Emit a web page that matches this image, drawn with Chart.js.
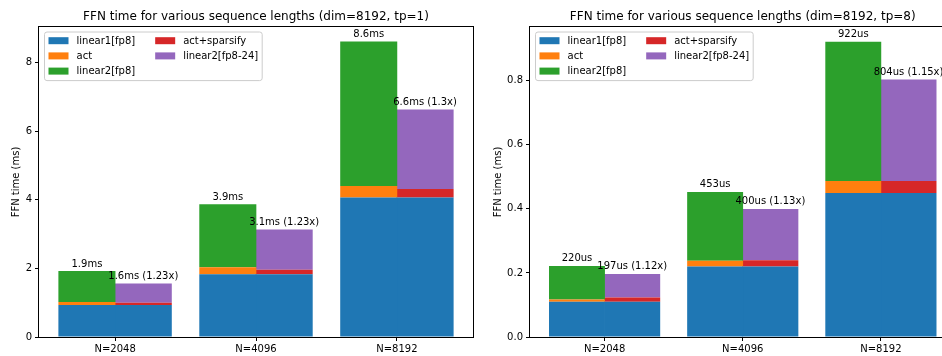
<!DOCTYPE html>
<html><head><meta charset="utf-8">
<script src="https://cdn.jsdelivr.net/npm/chart.js@4/dist/chart.umd.min.js"></script>
<style>
html,body{margin:0;padding:0;background:#fff;overflow:hidden;width:942px;height:356px;position:relative;}
canvas{position:absolute;top:0;}
</style></head><body>
<canvas id="c1" width="480" height="356" style="left:0px"></canvas>
<canvas id="c2" width="480" height="356" style="left:480px"></canvas>
<script>
// ---- data ----
const categories = ['N=2048', 'N=4096', 'N=8192'];
const seriesNames = ['linear1[fp8]', 'act', 'linear2[fp8]', 'act+sparsify', 'linear2[fp8-24]'];

// tp=1 (ms)
const tp1Linear1 = [0.93, 1.83, 4.06];
const tp1Act = [0.09, 0.20, 0.34];
const tp1Linear2 = [0.90, 1.84, 4.21];
const tp1ActSparsify = [0.07, 0.13, 0.25];
const tp1Linear2Sparse = [0.56, 1.17, 2.32];
const tp1DenseLabels = ['1.9ms', '3.9ms', '8.6ms'];
const tp1SparseLabels = ['1.6ms (1.23x)', '3.1ms (1.23x)', '6.6ms (1.3x)'];
const tp1YTicks = [0, 2, 4, 6, 8];
const tp1YMax = 9.03;

// tp=8 (ms)
const tp8Linear1 = [0.110, 0.220, 0.450];
const tp8Act = [0.007, 0.018, 0.037];
const tp8Linear2 = [0.105, 0.215, 0.435];
const tp8ActSparsify = [0.013, 0.020, 0.037];
const tp8Linear2Sparse = [0.074, 0.160, 0.317];
const tp8DenseLabels = ['220us', '453us', '922us'];
const tp8SparseLabels = ['197us (1.12x)', '400us (1.13x)', '804us (1.15x)'];
const tp8YTicks = [0, 0.2, 0.4, 0.6, 0.8];
const tp8YMax = 0.968;

// ---- styling ----
const COLORS = ['#1f77b4', '#ff7f0e', '#2ca02c', '#d62728', '#9467bd'];
const FONT = 'DejaVu Sans';

const toXY = arr => arr.map((v, i) => ({ x: i, y: v }));

function buildDatasets(l1, act, l2, actS, l2S) {
  return [
    { label: seriesNames[0], data: toXY(l1), backgroundColor: COLORS[0], stack: 'dense', legend: true },
    { label: seriesNames[1], data: toXY(act), backgroundColor: COLORS[1], stack: 'dense', legend: true },
    { label: seriesNames[2], data: toXY(l2), backgroundColor: COLORS[2], stack: 'dense', legend: true },
    { label: seriesNames[0], data: toXY(l1), backgroundColor: COLORS[0], stack: 'sparse', legend: false },
    { label: seriesNames[3], data: toXY(actS), backgroundColor: COLORS[3], stack: 'sparse', legend: true },
    { label: seriesNames[4], data: toXY(l2S), backgroundColor: COLORS[4], stack: 'sparse', legend: true }
  ].map(d => Object.assign(d, { borderWidth: 0, categoryPercentage: 0.8, barPercentage: 1.012 }));
}

const framePlugin = {
  id: 'frameAndLabels',
  afterDatasetsDraw(chart, args, opts) {
    const ctx = chart.ctx;
    const a = chart.chartArea;
    ctx.save();
    // value labels
    ctx.fillStyle = '#000';
    ctx.font = '10px "' + FONT + '"';
    ctx.textAlign = 'center';
    ctx.textBaseline = 'alphabetic';
    const denseMeta = chart.getDatasetMeta(2);
    const sparseMeta = chart.getDatasetMeta(5);
    denseMeta.data.forEach((el, i) => ctx.fillText(opts.dense[i], el.x, el.y - 4.5));
    sparseMeta.data.forEach((el, i) => ctx.fillText(opts.sparse[i], el.x, el.y - 4.5));
    // axes frame
    ctx.strokeStyle = '#000';
    ctx.lineWidth = 1;
    ctx.strokeRect(Math.round(a.left) - 0.5, Math.round(a.top) - 0.5,
                   Math.round(a.right) - Math.round(a.left) + 1, Math.round(a.bottom) - Math.round(a.top) + 1);
    // legend
    const items = chart.data.datasets.filter(d => d.legend);
    const fx = a.left + 5.5, fy = a.top + 5;
    const col1 = items.slice(0, 3), col2 = items.slice(3);
    const w1 = Math.max(...col1.map(d => ctx.measureText(d.label).width));
    const w2 = Math.max(...col2.map(d => ctx.measureText(d.label).width));
    const colX = [fx + 4, fx + 4 + 20 + 8 + w1 + 20];
    const fw = (colX[1] - fx) + 20 + 8 + w2 + 4;
    const fh = 48.6;
    ctx.beginPath();
    if (ctx.roundRect) ctx.roundRect(fx, fy, fw, fh, 2.5); else ctx.rect(fx, fy, fw, fh);
    ctx.fillStyle = 'rgba(255,255,255,0.8)';
    ctx.fill();
    ctx.strokeStyle = '#cccccc';
    ctx.stroke();
    ctx.textAlign = 'left';
    ctx.textBaseline = 'middle';
    [col1, col2].forEach((col, c) => {
      col.forEach((d, r) => {
        const cy = fy + 8.7 + r * 15.2;
        ctx.fillStyle = d.backgroundColor;
        ctx.fillRect(colX[c], cy - 3.5, 20, 7);
        ctx.fillStyle = '#000';
        ctx.fillText(d.label, colX[c] + 28, cy + 0.5);
      });
    });
    ctx.restore();
  }
};

function makeChart(id, cfg) {
  return new Chart(document.getElementById(id), {
    type: 'bar',
    data: { datasets: buildDatasets(...cfg.series) },
    plugins: [framePlugin],
    options: {
      responsive: false,
      animation: false,
      devicePixelRatio: 1,
      layout: { padding: { left: 0, right: cfg.padRight, top: 0, bottom: 0 } },
      plugins: {
        legend: { display: false },
        tooltip: { enabled: false },
        title: {
          display: true, text: cfg.title, fullSize: false, color: '#000',
          font: { family: FONT, size: 12, weight: 'normal' },
          padding: { top: 9.5, bottom: 3.1 }
        },
        frameAndLabels: { dense: cfg.dense, sparse: cfg.sparse }
      },
      scales: {
        x: {
          type: 'linear', min: -0.54, max: 2.54, offset: false,
          afterBuildTicks: s => { s.ticks = categories.map((_, i) => ({ value: i })); },
          afterFit: s => { s.height = 19; },
          ticks: { callback: v => categories[v] ?? '', color: '#000', padding: 2,
                   font: { family: FONT, size: 10 }, maxRotation: 0, autoSkip: false },
          grid: { display: true, drawOnChartArea: false, drawTicks: true, tickLength: 4, color: '#000', offset: false },
          border: { display: false }
        },
        y: {
          type: 'linear', min: 0, max: cfg.yMax, stacked: true,
          afterBuildTicks: s => { s.ticks = cfg.yTicks.map(v => ({ value: v })); },
          afterFit: s => { s.width = cfg.yWidth; },
          ticks: { callback: cfg.fmt, color: '#000', padding: 3, font: { family: FONT, size: 10 } },
          grid: { display: true, drawOnChartArea: false, drawTicks: true, tickLength: 4, color: '#000' },
          border: { display: false },
          title: { display: true, text: 'FFN time (ms)', color: '#000',
                   font: { family: FONT, size: 10 }, padding: { top: cfg.yTitlePad, bottom: 0 } }
        }
      }
    }
  });
}

makeChart('c1', {
  title: 'FFN time for various sequence lengths (dim=8192, tp=1)',
  series: [tp1Linear1, tp1Act, tp1Linear2, tp1ActSparsify, tp1Linear2Sparse],
  dense: tp1DenseLabels, sparse: tp1SparseLabels,
  yTicks: tp1YTicks, yMax: tp1YMax, fmt: v => String(v),
  yWidth: 39, padRight: 7, yTitlePad: 10
});
makeChart('c2', {
  title: 'FFN time for various sequence lengths (dim=8192, tp=8)',
  series: [tp8Linear1, tp8Act, tp8Linear2, tp8ActSparsify, tp8Linear2Sparse],
  dense: tp8DenseLabels, sparse: tp8SparseLabels,
  yTicks: tp8YTicks, yMax: tp8YMax, fmt: v => Number(v).toFixed(1),
  yWidth: 50, padRight: 4.5, yTitlePad: 12
});
</script>
</body></html>
